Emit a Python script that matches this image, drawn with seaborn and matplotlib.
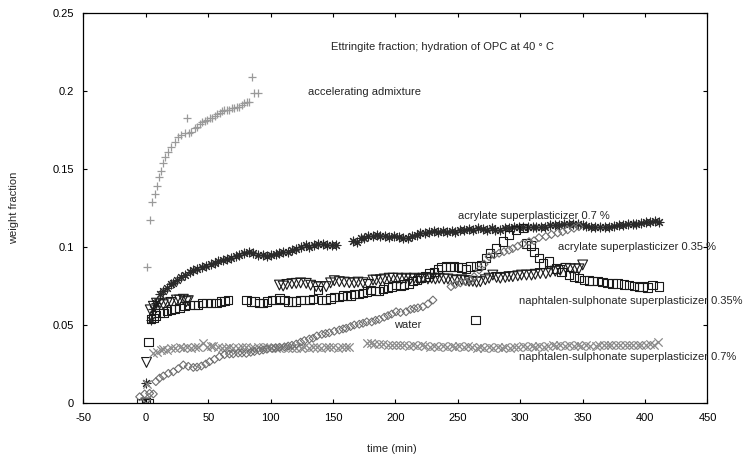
import matplotlib
matplotlib.use('Agg')
import matplotlib.pyplot as plt
import seaborn as sns

# ---- data (time in min, weight fraction) ----
accel_t = [0.8, 3, 5, 7, 9, 10.5, 12, 13.5, 15.5, 18, 20.5, 23, 26, 28.5, 31, 33, 34.5,
           36.5, 39, 41, 43, 45, 47, 49, 51, 53, 55, 57, 59, 61, 63, 65, 67, 69, 71,
           73, 75, 77, 79, 81, 83, 85, 87, 90]
accel_w = [0.087, 0.117, 0.129, 0.134, 0.139, 0.145, 0.149, 0.154, 0.158, 0.161, 0.164,
           0.1675, 0.1705, 0.172, 0.173, 0.183, 0.173, 0.174, 0.176, 0.177, 0.179, 0.180,
           0.181, 0.1815, 0.1825, 0.183, 0.184, 0.185, 0.186, 0.187, 0.1875, 0.188, 0.188,
           0.189, 0.189, 0.190, 0.190, 0.191, 0.192, 0.193, 0.193, 0.209, 0.199, 0.199]

acr07_t = [0, 4, 6, 8, 11, 14, 17, 20, 22, 25, 28, 31, 35, 38, 41, 45, 48.5, 52, 55, 58,
           62, 65, 68, 72, 75, 79, 83, 86, 90, 94, 97, 100, 104, 107, 110, 114, 117, 120,
           124, 128, 131, 135, 138, 142, 145, 149, 152,
           166, 169, 172, 175, 178, 182, 185, 188, 192, 195, 199, 203, 206, 210, 213, 217,
           220, 224, 227, 231, 234, 238, 241, 245, 248, 252, 255, 259, 262, 266, 270, 273,
           277, 280, 284, 288, 291, 295, 299, 302, 306, 310, 313, 317, 320, 324, 328, 331,
           335, 339, 342, 346, 350, 353, 357, 360, 364, 368, 371, 375, 379, 382, 386, 390,
           393, 397, 401, 404, 408, 411]
acr07_w = [0.0126, 0.053, 0.060, 0.064, 0.070, 0.072, 0.074, 0.076, 0.077, 0.079, 0.081,
           0.082, 0.084, 0.085, 0.086, 0.087, 0.088, 0.089, 0.090, 0.091, 0.0917, 0.092,
           0.093, 0.094, 0.0949, 0.096, 0.0966, 0.096, 0.095, 0.095, 0.0945, 0.095, 0.0958,
           0.0963, 0.097, 0.097, 0.098, 0.099, 0.100, 0.101, 0.100, 0.101, 0.102, 0.102,
           0.101, 0.101, 0.101,
           0.104, 0.103, 0.1055, 0.106, 0.107, 0.107, 0.1075, 0.107, 0.107, 0.1065, 0.107,
           0.1066, 0.106, 0.1058, 0.107, 0.108, 0.109, 0.109, 0.1098, 0.110, 0.1095, 0.110,
           0.1095, 0.110, 0.1098, 0.111, 0.111, 0.1115, 0.111, 0.112, 0.1115, 0.111, 0.112,
           0.111, 0.111, 0.112, 0.112, 0.113, 0.113, 0.1125, 0.113, 0.113, 0.1125, 0.113,
           0.113, 0.114, 0.114, 0.114, 0.1145, 0.115, 0.115, 0.115, 0.114, 0.1135, 0.113,
           0.113, 0.113, 0.113, 0.113, 0.1135, 0.114, 0.114, 0.1145, 0.115, 0.115, 0.1155,
           0.116, 0.116, 0.1165, 0.116]

acr035_t = [-4, 0, 2, 2, 4.2, 6, 8, 11, 14, 17, 20, 23, 27, 31, 35, 39, 42, 45, 48.5, 52,
            56.5, 60, 63, 66,
            80.5, 84, 87, 91, 94, 97, 101, 104, 107, 111, 114, 117, 120.5, 124, 127, 131,
            134, 138, 141, 144.5, 148, 151, 155, 158, 161, 164, 167, 171, 174, 177, 180,
            184, 187, 190, 194, 197, 200.5, 204, 207, 211, 214, 217, 220, 224, 227, 231,
            234, 237, 240.5, 244, 247, 250, 253, 256.5, 260, 264, 265, 268.5, 272.5, 276,
            280.5, 286, 291, 296.5, 302, 304.5, 308.5, 311, 315, 318, 323, 328.5, 333, 339,
            343, 347, 351, 355, 358, 362, 366, 370, 374, 378, 383, 387, 391, 395, 398, 402,
            406, 411]
acr035_w = [0, 0, 0, 0.039, 0.054, 0.0545, 0.056, 0.0575, 0.0576, 0.059, 0.060, 0.0603,
            0.061, 0.062, 0.0628, 0.063, 0.063, 0.064, 0.0643, 0.0643, 0.0643, 0.065,
            0.0655, 0.066,
            0.066, 0.065, 0.065, 0.064, 0.0643, 0.065, 0.066, 0.066, 0.067, 0.066, 0.065,
            0.065, 0.065, 0.066, 0.066, 0.066, 0.0665, 0.0726, 0.066, 0.066, 0.067, 0.068,
            0.068, 0.069, 0.0686, 0.069, 0.070, 0.070, 0.0703, 0.0715, 0.0724, 0.072,
            0.072, 0.073, 0.074, 0.0746, 0.0756, 0.075, 0.076, 0.0767, 0.078, 0.079, 0.080,
            0.081, 0.083, 0.084, 0.086, 0.087, 0.0874, 0.087, 0.0874, 0.087, 0.0868, 0.086,
            0.0874, 0.053, 0.088, 0.0885, 0.093, 0.096, 0.099, 0.1035, 0.1077, 0.111, 0.112,
            0.1023, 0.101, 0.097, 0.093, 0.0895, 0.0906, 0.0863, 0.084, 0.082, 0.081, 0.080,
            0.079, 0.0785, 0.078, 0.078, 0.0775, 0.077, 0.0767, 0.0765, 0.076, 0.0756,
            0.075, 0.0745, 0.0746, 0.074, 0.0755, 0.0746]

nap035_t = [0, 0.5, 3.5, 6, 8.5, 11, 14, 17, 20, 24.5, 27, 30, 32.5, 34,
            107, 110, 113, 117, 120.5, 124, 128.5, 132, 136.5, 140, 144.5, 148, 151, 155,
            159, 163, 167, 170, 174, 178, 182, 184.5, 188, 191, 195, 198, 202, 205, 208.5,
            212, 215, 219, 222, 226, 229, 232, 235, 239, 242, 246, 249, 253, 256, 259, 262,
            265, 268, 272, 275, 278, 281, 284, 288, 291, 294, 298, 301, 305, 309, 312, 316,
            320.5, 324, 328, 332, 336.5, 340, 344, 347, 350]
nap035_w = [0, 0.026, 0.0597, 0.062, 0.064, 0.0635, 0.063, 0.064, 0.0645, 0.066, 0.066,
            0.0665, 0.065, 0.0656,
            0.0756, 0.075, 0.076, 0.0765, 0.0767, 0.077, 0.0767, 0.0755, 0.0746, 0.0745,
            0.0746, 0.077, 0.0784, 0.0778, 0.0775, 0.0771, 0.077, 0.0775, 0.0771, 0.076,
            0.0788, 0.0788, 0.079, 0.0795, 0.080, 0.080, 0.080, 0.0795, 0.080, 0.0795, 0.080,
            0.0795, 0.080, 0.0795, 0.080, 0.0795, 0.080, 0.0795, 0.0795, 0.079, 0.0785,
            0.079, 0.0785, 0.078, 0.078, 0.0775, 0.0778, 0.079, 0.080, 0.082, 0.0805, 0.080,
            0.0805, 0.081, 0.081, 0.0815, 0.082, 0.082, 0.082, 0.0825, 0.083, 0.083, 0.084,
            0.0845, 0.085, 0.0863, 0.086, 0.086, 0.086, 0.0885]

nap07_t = [0, 1, 6, 9, 12, 14, 17, 20, 23, 27, 30, 33, 36, 39, 42, 46, 49, 52, 54, 58, 61,
           64, 67, 70, 74, 77, 80.5, 84, 87, 90, 94, 97, 100, 104, 107, 110, 114, 117, 120.5,
           124, 127, 131, 134, 137, 140, 144, 147, 150, 154, 157, 160.5, 163,
           177, 180, 183, 187, 190, 194, 197, 200.5, 204, 207, 211, 214, 217, 221, 224, 228,
           231, 234, 238, 241, 245, 248, 251, 255, 258, 261, 265, 268, 271, 275, 278, 282,
           285, 288, 292, 295, 298, 302, 305, 309, 312, 315, 319, 322, 326, 329, 332, 336,
           339, 343, 346, 349, 353, 356, 360.5, 363, 367, 370, 373, 377, 380, 384, 387, 390,
           394, 397, 401, 404, 407, 410]
nap07_w = [0, 0.012, 0.0318, 0.033, 0.034, 0.0344, 0.034, 0.035, 0.035, 0.0357, 0.0355,
           0.036, 0.0355, 0.0361, 0.036, 0.0387, 0.036, 0.0365, 0.0365, 0.036, 0.0355,
           0.035, 0.0357, 0.035, 0.0355, 0.036, 0.0357, 0.0355, 0.035, 0.036, 0.0357, 0.036,
           0.0355, 0.035, 0.035, 0.036, 0.0355, 0.035, 0.0355, 0.035, 0.036, 0.0355, 0.0357,
           0.036, 0.0355, 0.036, 0.0357, 0.036, 0.0355, 0.0357, 0.0357, 0.0357,
           0.0382, 0.0387, 0.038, 0.038, 0.038, 0.0375, 0.037, 0.037, 0.0375, 0.037, 0.0365,
           0.037, 0.0365, 0.037, 0.0365, 0.036, 0.0365, 0.036, 0.0365, 0.036, 0.0365, 0.036,
           0.0365, 0.036, 0.0365, 0.036, 0.0355, 0.036, 0.0355, 0.036, 0.0355, 0.036,
           0.0355, 0.036, 0.0355, 0.036, 0.036, 0.0365, 0.036, 0.0365, 0.036, 0.0365, 0.036,
           0.0365, 0.037, 0.0365, 0.037, 0.0365, 0.037, 0.0365, 0.037, 0.0365, 0.037,
           0.0365, 0.0367, 0.037, 0.0375, 0.037, 0.037, 0.0375, 0.037, 0.0375, 0.0372,
           0.037, 0.0375, 0.037, 0.0375, 0.038, 0.0375, 0.0393]

water_t = [-5, -1, 3, 6, 8, 11, 14, 18, 22, 26, 30, 34, 38, 41, 44.5, 48, 51, 55, 59, 63,
           67, 70, 74, 77, 80.5, 84, 87, 91, 94, 97, 101, 104, 107, 111, 114, 117, 120.5,
           124, 127, 131, 134, 137, 141, 144, 147, 151, 155, 158, 160.5, 164, 167, 171,
           174, 177, 181, 184, 187, 191, 194, 197, 200.5, 204, 208.5, 212, 215, 218, 222,
           226, 230,
           244.5, 248, 252, 256.5, 260, 263, 267, 271, 275, 279, 283, 287, 291, 294, 298,
           302, 307, 311, 315, 320.5, 325, 330, 334, 338, 343, 347]
water_w = [0.004, 0.0058, 0.0062, 0.0058, 0.0137, 0.016, 0.0173, 0.019, 0.020, 0.022,
           0.0244, 0.0235, 0.0228, 0.023, 0.0237, 0.025, 0.0265, 0.028, 0.0297, 0.031,
           0.0314, 0.0315, 0.032, 0.032, 0.0318, 0.0325, 0.033, 0.0335, 0.034, 0.0345,
           0.035, 0.0355, 0.0357, 0.036, 0.0365, 0.037, 0.0378, 0.039, 0.040, 0.041, 0.0415,
           0.043, 0.044, 0.0445, 0.045, 0.046, 0.0468, 0.0475, 0.0479, 0.049, 0.050, 0.0505,
           0.0511, 0.052, 0.052, 0.053, 0.0536, 0.055, 0.056, 0.057, 0.0585, 0.058, 0.0585,
           0.060, 0.0605, 0.061, 0.0617, 0.0635, 0.066,
           0.0746, 0.076, 0.077, 0.0778, 0.079, 0.081, 0.0853, 0.089, 0.0938, 0.095, 0.096,
           0.097, 0.098, 0.099, 0.1005, 0.102, 0.1034, 0.104, 0.106, 0.1067, 0.108, 0.109,
           0.1098, 0.111, 0.112, 0.113]

x_ticks = [-50, 0, 50, 100, 150, 200, 250, 300, 350, 400, 450]
y_ticks = [0, 0.05, 0.1, 0.15, 0.2, 0.25]
y_ticklabels = ['0', '0.05', '0.1', '0.15', '0.2', '0.25']

sns.set_style('ticks')
plt.rcParams['font.family'] = ['Liberation Sans', 'DejaVu Sans']
plt.rcParams['axes.unicode_minus'] = False

fig = plt.figure(figsize=(7.44, 4.59), dpi=100)
ax = fig.add_axes([0.1122, 0.122, 0.8387, 0.8497])

# series
sns.scatterplot(x=accel_t, y=accel_w, marker='+', s=40, color='#9a9a9a',
                linewidth=0.9, ax=ax, legend=False)
sns.scatterplot(x=acr07_t, y=acr07_w, marker=(8, 2, 0), s=40, color='#2a2a2a',
                linewidth=0.8, ax=ax, legend=False)
sns.scatterplot(x=acr035_t, y=acr035_w, marker='s', s=36, facecolor='none',
                edgecolor='#1a1a1a', linewidth=0.8, ax=ax, legend=False)
sns.scatterplot(x=nap035_t, y=nap035_w, marker='v', s=50, facecolor='none',
                edgecolor='#1a1a1a', linewidth=0.8, ax=ax, legend=False)
sns.scatterplot(x=nap07_t, y=nap07_w, marker='x', s=36, color='#8a8a8a',
                linewidth=0.9, ax=ax, legend=False)
sns.scatterplot(x=water_t, y=water_w, marker='D', s=16, facecolor='none',
                edgecolor='#707070', linewidth=0.8, ax=ax, legend=False)

fs = 8
ax.text(148, 0.2285, 'Ettringite fraction; hydration of OPC at 40 \u00b0 C', fontsize=fs, va='center')
ax.text(130, 0.1995, 'accelerating admixture', fontsize=fs, va='center')
ax.text(250, 0.120, 'acrylate superplasticizer 0.7 %', fontsize=fs, va='center')
ax.text(330, 0.100, 'acrylate superplasticizer 0.35 %', fontsize=fs, va='center')
ax.text(299, 0.0655, 'naphtalen-sulphonate superplasticizer 0.35%', fontsize=fs, va='center')
ax.text(199, 0.050, 'water', fontsize=fs, va='center')
ax.text(299, 0.0295, 'naphtalen-sulphonate superplasticizer 0.7%', fontsize=fs, va='center')

ax.set_xlim(-50, 450)
ax.set_ylim(0, 0.25)
ax.set_xticks(x_ticks)
ax.set_xticklabels([str(v) for v in x_ticks])
ax.set_yticks(y_ticks)
ax.set_yticklabels(y_ticklabels)
ax.tick_params(direction='in', length=3, width=0.8, top=True, right=True,
               labelsize=fs, pad=7, color='black', labelcolor='black')
for sp in ax.spines.values():
    sp.set_linewidth(0.9)
    sp.set_color('black')

ax.set_xlabel('time (min)', fontsize=fs)
ax.set_ylabel('weight fraction', fontsize=fs)
ax.xaxis.set_label_coords(0.494, -0.105)
ax.yaxis.set_label_coords(-0.104, 0.5)

plt.savefig('out.png', dpi=100)
